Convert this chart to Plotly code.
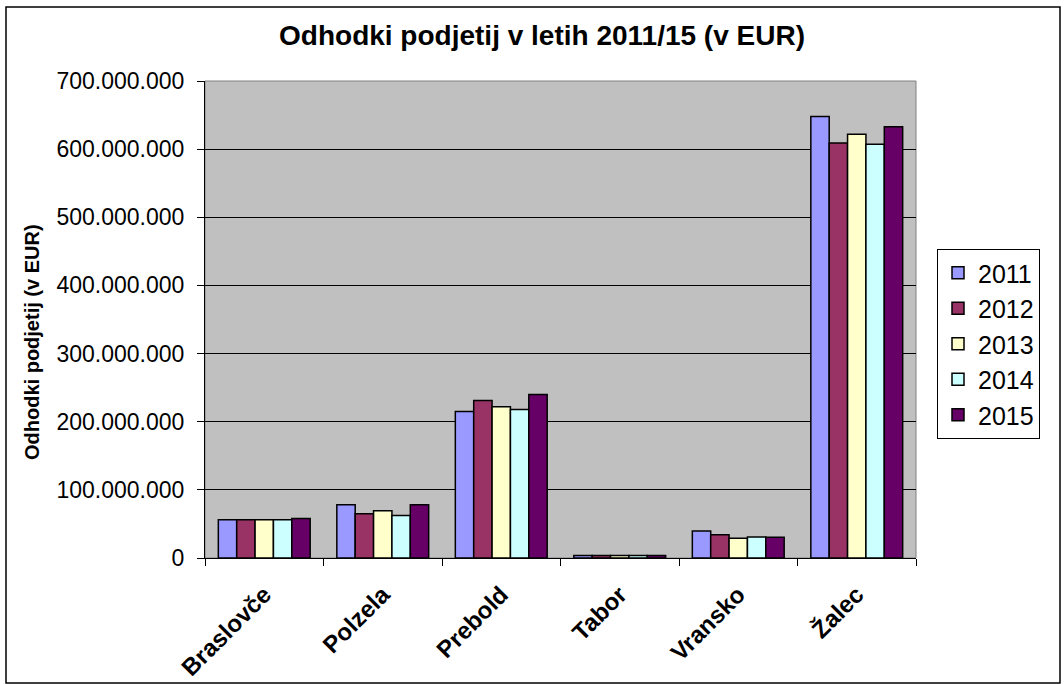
import plotly.graph_objects as go

# data (EUR)
obcine = ['Braslovče', 'Polzela', 'Prebold', 'Tabor', 'Vransko', 'Žalec']
leta = ['2011', '2012', '2013', '2014', '2015']
v2011 = [56e6, 78e6, 215e6, 3.5e6, 39.5e6, 648e6]
v2012 = [56e6, 65e6, 231e6, 3.5e6, 34e6, 609e6]
v2013 = [56e6, 69.5e6, 222e6, 3.5e6, 29e6, 622e6]
v2014 = [56e6, 62.5e6, 218e6, 3.5e6, 31e6, 607e6]
v2015 = [58e6, 78e6, 240e6, 3.5e6, 30.5e6, 633e6]
barve = ['#9999FF', '#993366', '#FFFFCC', '#CCFFFF', '#660066']

W, H = 1064, 684
L, R, T, B = 205, 916, 81, 558

fig = go.Figure()
for leto, vals, c in zip(leta, [v2011, v2012, v2013, v2014, v2015], barve):
  fig.add_trace(go.Bar(x=obcine, y=vals, name=leto,
                       marker=dict(color=c, line=dict(color='black', width=1.5))))

def px_x(p):
  return (p - L) / (R - L)

def px_y(p):
  return (B - p) / (B - T)

fig.update_layout(
  width=W, height=H,
  margin=dict(l=L, r=W - R, t=T, b=H - B, autoexpand=False),
  paper_bgcolor='white', plot_bgcolor='#C0C0C0',
  separators=',.',
  font=dict(family='Arial, Liberation Sans', color='black'),
  barmode='group', bargap=0.225, bargroupgap=0,
  title=dict(text='<b>Odhodki podjetij v letih 2011/15 (v EUR)</b>',
             font=dict(size=28), x=px_x(542), xref='paper', xanchor='center',
             y=1 - 35 / H, yanchor='middle'),
  legend=dict(x=px_x(937), xanchor='left', y=px_y(344), yanchor='middle',
              bordercolor='black', borderwidth=1, bgcolor='white',
              font=dict(size=25), tracegroupgap=0, itemwidth=30),
  showlegend=True,
)
fig.update_yaxes(range=[0, 700e6], dtick=100e6, tickformat=',d',
                 showgrid=True, gridcolor='black', gridwidth=1,
                 showline=True, linecolor='black', linewidth=1,
                 ticks='outside', ticklen=7, tickcolor='black',
                 tickfont=dict(size=23), zeroline=False, ticklabelstandoff=8,
                 automargin=False)
fig.update_xaxes(showline=True, linecolor='black', linewidth=1,
                 ticks='outside', tickson='boundaries', ticklen=7, tickcolor='black',
                 tickangle=-45, tickfont=dict(size=24),
                 ticklabelstandoff=12, automargin=False)
fig.update_xaxes(ticktext=['<b>%s</b>' % o for o in obcine], tickvals=obcine)

# y axis title placed by hand
fig.add_annotation(text='<b>Odhodki podjetij (v EUR)</b>', textangle=-90,
                   xref='paper', yref='paper', x=px_x(19), y=px_y(342),
                   showarrow=False, font=dict(size=20))

# grey plot area frame and outer chart border
fig.add_shape(type='rect', xref='paper', yref='paper', x0=0, x1=1, y0=0, y1=1,
              line=dict(color='#808080', width=1), layer='below')
fig.add_shape(type='rect', xref='paper', yref='paper',
              x0=px_x(6), x1=px_x(1060), y0=px_y(683), y1=px_y(7),
              line=dict(color='black', width=1.5))

# page body has an 8px default margin; drop it so pixels line up
fig.write_html("out.html", config={'displayModeBar': False},
               post_script="document.body.style.margin='0';")
